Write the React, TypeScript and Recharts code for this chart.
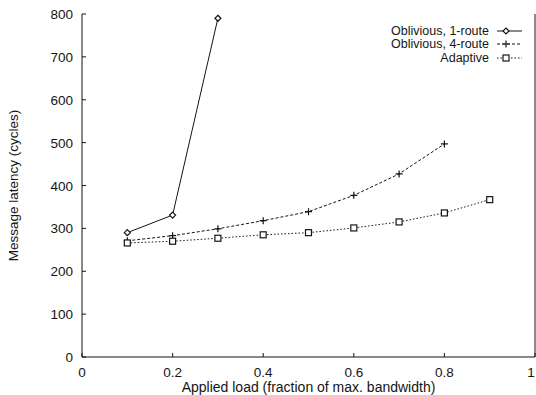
import { LineChart, Line, XAxis, YAxis } from 'recharts'

// applied load (fraction of max. bandwidth)
const loads = [0.1, 0.2, 0.3, 0.4, 0.5, 0.6, 0.7, 0.8, 0.9]
// message latency in cycles
const oblivious1 = [290, 331, 790]
const oblivious4 = [271, 283, 299, 318, 339, 377, 427, 497]
const adaptive = [266, 270, 277, 285, 290, 301, 315, 336, 367]

const xTicks = [0, 0.2, 0.4, 0.6, 0.8, 1]
const yTicks = [0, 100, 200, 300, 400, 500, 600, 700, 800]

const seriesNames = ['Oblivious, 1-route', 'Oblivious, 4-route', 'Adaptive']

const data = loads.map((x, i) => ({
  x,
  o1: oblivious1[i],
  o4: oblivious4[i],
  ad: adaptive[i],
}))

const INK = '#151515'
const FONT = '"Liberation Sans", Arial, Helvetica, sans-serif'
const TICK = 4

const fmtX = (v: number) => (v === 0 || v === 1 ? String(v) : v.toFixed(1))

function BottomTick({ x, y, payload }: any) {
  // the last label sits at the page edge, nudge it in so it is not cut
  const tx = payload.value === 1 ? x - 4 : x
  return (
    <g>
      <line x1={x} y1={y} x2={x} y2={y - TICK} stroke={INK} />
      <text x={tx} y={y + 20} textAnchor="middle" fontSize={13.5} fill={INK} fontFamily={FONT}>
        {fmtX(payload.value)}
      </text>
    </g>
  )
}

function LeftTick({ x, y, payload }: any) {
  return (
    <g>
      <line x1={x} y1={y} x2={x + TICK} y2={y} stroke={INK} />
      <text x={x - 9} y={y + 5} textAnchor="end" fontSize={13.5} fill={INK} fontFamily={FONT}>
        {payload.value}
      </text>
    </g>
  )
}

function TopTick({ x, y }: any) {
  return <line x1={x} y1={y} x2={x} y2={y + TICK} stroke={INK} />
}

function RightTick({ x, y }: any) {
  return <line x1={x} y1={y} x2={x - TICK} y2={y} stroke={INK} />
}

function Diamond({ cx, cy, index }: any) {
  if (cx == null || cy == null) return <g key={`o1-${index}`} />
  return (
    <path key={`o1-${index}`} d={`M${cx},${cy - 3}L${cx + 3},${cy}L${cx},${cy + 3}L${cx - 3},${cy}Z`}
      fill="#fff" stroke={INK} strokeWidth={1.2} />
  )
}

function Plus({ cx, cy, index }: any) {
  if (cx == null || cy == null) return <g key={`o4-${index}`} />
  return (
    <path key={`o4-${index}`} d={`M${cx - 3.5},${cy}H${cx + 3.5}M${cx},${cy - 3.5}V${cy + 3.5}`}
      stroke={INK} strokeWidth={1.2} fill="none" />
  )
}

function Square({ cx, cy, index }: any) {
  if (cx == null || cy == null) return <g key={`ad-${index}`} />
  return <rect key={`ad-${index}`} x={cx - 3} y={cy - 3} width={6} height={6} fill="#fff" stroke={INK} strokeWidth={1.2} />
}

const legendStyles = [
  { dash: undefined, Marker: Diamond },
  { dash: '3 2', Marker: Plus },
  { dash: '1.5 2', Marker: Square },
]

function LegendBox() {
  return (
    <div style={{ position: 'absolute', top: 24, right: 14, fontFamily: FONT, fontSize: 12.5, color: INK }}>
      {seriesNames.map((name, i) => {
        const { dash, Marker } = legendStyles[i]
        return (
          <div key={name} style={{ display: 'flex', alignItems: 'center', justifyContent: 'flex-end', height: 13.5 }}>
            <span style={{ whiteSpace: 'nowrap' }}>{name}</span>
            <svg width={25} height={10} style={{ marginLeft: 8 }}>
              <line x1={0} y1={5} x2={25} y2={5} stroke={INK} strokeDasharray={dash} />
              <Marker cx={9} cy={5} index={0} />
            </svg>
          </div>
        )
      })}
    </div>
  )
}

export default function App() {
  return (
    <div style={{ position: 'absolute', left: 0, top: 0, width: 536, height: 395, background: '#fff' }}>
      <LineChart width={536} height={395} data={data} margin={{ top: 14, right: 0, bottom: 0, left: 0 }}>
        <XAxis dataKey="x" type="number" domain={[0, 1]} ticks={xTicks} height={38}
          tickSize={0} tickMargin={0} tickLine={false} axisLine={{ stroke: INK }} tick={BottomTick}
          interval={0}
          label={{ value: 'Applied load (fraction of max. bandwidth)', position: 'insideBottom', offset: 3,
            style: { fontFamily: FONT, fontSize: 14, fill: INK } }} />
        <XAxis xAxisId="top" orientation="top" dataKey="x" type="number" domain={[0, 1]} ticks={xTicks}
          height={0} tickSize={0} tickMargin={0} tickLine={false} axisLine={{ stroke: INK }} tick={TopTick}
          interval={0} />
        <YAxis type="number" domain={[0, 800]} ticks={yTicks} width={82} interval={0}
          tickSize={0} tickMargin={0} tickLine={false} axisLine={{ stroke: INK }} tick={LeftTick}
          label={{ value: 'Message latency (cycles)', angle: -90, position: 'insideLeft', offset: 13,
            style: { fontFamily: FONT, fontSize: 13.5, fill: INK, textAnchor: 'middle' } }} />
        <YAxis yAxisId="right" orientation="right" type="number" domain={[0, 800]} ticks={yTicks} width={1}
          interval={0} tickSize={0} tickMargin={0} tickLine={false} axisLine={{ stroke: INK }} tick={RightTick} />
        <Line dataKey="o1" name={seriesNames[0]} stroke={INK} strokeWidth={1} dot={Diamond}
          isAnimationActive={false} connectNulls={false} />
        <Line dataKey="o4" name={seriesNames[1]} stroke={INK} strokeWidth={1} strokeDasharray="3 2" dot={Plus}
          isAnimationActive={false} />
        <Line dataKey="ad" name={seriesNames[2]} stroke={INK} strokeWidth={1} strokeDasharray="1.5 2" dot={Square}
          isAnimationActive={false} />
      </LineChart>
      <LegendBox />
    </div>
  )
}
